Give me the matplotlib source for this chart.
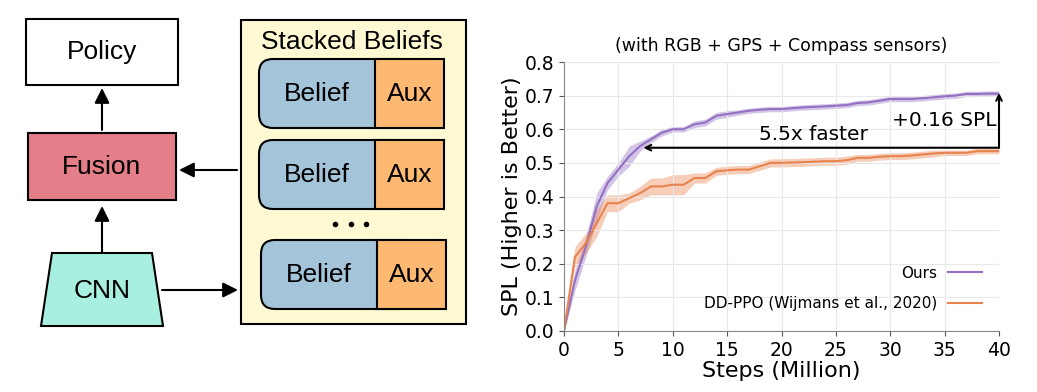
import numpy as np
import matplotlib
matplotlib.use("Agg")
import matplotlib.pyplot as plt
from matplotlib.patches import Rectangle, FancyBboxPatch, Polygon

# training curves (steps in million, SPL)
STEPS_OURS = [0, 1, 2, 3, 4, 5, 6, 7, 8, 9, 10, 11, 12, 13, 14, 15, 16, 17, 18, 19, 20,
              22, 24, 25, 26, 27, 28, 29, 30, 32, 34, 35, 36, 37, 38, 39, 40]
SPL_OURS = [0.0, 0.15, 0.25, 0.37, 0.44, 0.48, 0.52, 0.55, 0.57, 0.59, 0.60, 0.60, 0.615,
            0.62, 0.64, 0.645, 0.65, 0.655, 0.658, 0.66, 0.66, 0.665, 0.668, 0.67, 0.672,
            0.678, 0.68, 0.685, 0.69, 0.69, 0.695, 0.698, 0.70, 0.705, 0.705, 0.706, 0.706]
ERR_OURS = [0.0, 0.03, 0.03, 0.04, 0.02, 0.02, 0.03, 0.015, 0.01, 0.01, 0.008, 0.008, 0.01,
            0.01, 0.01, 0.01, 0.008, 0.008, 0.008, 0.008, 0.008, 0.008, 0.008, 0.008, 0.008,
            0.008, 0.008, 0.008, 0.008, 0.008, 0.008, 0.008, 0.008, 0.008, 0.008, 0.008, 0.008]

STEPS_DD = [0, 1, 2, 3, 4, 5, 6, 7, 8, 9, 10, 11, 12, 13, 14, 15, 16, 17, 18, 19, 20,
            22, 24, 25, 26, 27, 28, 29, 30, 31, 32, 33, 34, 35, 36, 37, 38, 39, 40]
SPL_DD = [0.0, 0.22, 0.26, 0.32, 0.38, 0.38, 0.395, 0.41, 0.43, 0.43, 0.435, 0.435, 0.455,
          0.455, 0.475, 0.478, 0.48, 0.48, 0.49, 0.50, 0.50, 0.502, 0.505, 0.505, 0.508,
          0.515, 0.515, 0.518, 0.52, 0.52, 0.522, 0.525, 0.528, 0.53, 0.53, 0.53, 0.535,
          0.535, 0.535]
ERR_DD = [0.0, 0.03, 0.03, 0.04, 0.025, 0.025, 0.015, 0.02, 0.025, 0.025, 0.03, 0.03, 0.015,
          0.015, 0.012, 0.012, 0.012, 0.012, 0.012, 0.012, 0.012, 0.012, 0.012, 0.012, 0.012,
          0.01, 0.01, 0.01, 0.01, 0.01, 0.01, 0.01, 0.01, 0.008, 0.008, 0.008, 0.008, 0.008, 0.008]

PURPLE = "#9370c2"
ORANGE = "#e8834e"
W, H = 1037, 392
DFONT = ["Liberation Sans", "DejaVu Sans"]

fig = plt.figure(figsize=(W / 100, H / 100), dpi=100)

# ---- left: architecture diagram, drawn in pixel coords ----
d = fig.add_axes([0, 0, 1, 1])
d.set_xlim(0, W); d.set_ylim(H, 0); d.axis("off")


def box(x0, y0, x1, y1, fc, label):
    d.add_patch(Rectangle((x0, y0), x1 - x0, y1 - y0, fc=fc, ec="black", lw=1.5))
    d.text((x0 + x1) / 2, (y0 + y1) / 2, label, ha="center", va="center", fontsize=19, family=DFONT)


def arrow(x0, y0, x1, y1):
    d.annotate("", xy=(x1, y1), xytext=(x0, y0),
               arrowprops=dict(arrowstyle="-|>,head_length=0.9,head_width=0.45", lw=1.5, color="black",
                               shrinkA=0, shrinkB=0))


box(26, 19, 178, 85, "white", "Policy")
box(28, 133, 176, 200, "#e47f8a", "Fusion")
d.add_patch(Polygon([(52, 253), (152, 253), (163, 326), (41, 326)], closed=True,
                    fc="#a8efe0", ec="black", lw=1.5))
d.text(102, 291, "CNN", ha="center", va="center", fontsize=19, family=DFONT)
arrow(102, 130, 102, 88)
arrow(102, 252, 102, 206)
arrow(162, 290, 238, 290)
arrow(237, 170, 179, 170)

d.add_patch(Rectangle((241, 20), 225, 304, fc="#fef9d3", ec="black", lw=1.5))
d.text(352, 42, "Stacked Beliefs", ha="center", va="center", fontsize=19, family=DFONT)
for (x0, y0, x1, xa) in [(259, 59, 375, 444), (259, 140, 375, 444), (261, 240, 377, 446)]:
    y1 = y0 + 69
    d.add_patch(FancyBboxPatch((x0 + 14, y0 + 14), (x1 - x0) + 10, 69 - 28,
                               boxstyle="round,pad=14", fc="#a4c4d9", ec="black", lw=1.5))
    d.add_patch(Rectangle((x1, y0), xa - x1, 69, fc="#fdb872", ec="black", lw=1.5))
    d.text((x0 + x1) / 2, (y0 + y1) / 2, "Belief", ha="center", va="center", fontsize=19, family=DFONT)
    d.text((x1 + xa) / 2, (y0 + y1) / 2, "Aux", ha="center", va="center", fontsize=19, family=DFONT)
for x in (335, 351, 366):
    d.plot(x, 224, "o", color="black", ms=3)

# ---- right: SPL curves ----
ax = fig.add_axes([564 / W, 1 - 331 / H, (999 - 564) / W, (331 - 62) / H])
for st, v, e, c, lab in [(STEPS_OURS, SPL_OURS, ERR_OURS, PURPLE, "Ours"),
                         (STEPS_DD, SPL_DD, ERR_DD, ORANGE, "DD-PPO (Wijmans et al., 2020)")]:
    st, v, e = np.array(st), np.array(v), np.array(e)
    ax.fill_between(st, v - e, v + e, color=c, alpha=0.4, lw=0)
    ax.plot(st, v, color=c, lw=1.5, label=lab)

ax.set_xlim(0, 40); ax.set_ylim(0, 0.8)
ax.set_xticks(range(0, 41, 5)); ax.set_yticks(np.arange(0, 0.81, 0.1))
ax.tick_params(labelsize=13.5, color="#555555")
ax.grid(color="#e8e8e8", lw=0.8)
for s in ("top", "right"):
    ax.spines[s].set_visible(False)
for s in ("left", "bottom"):
    ax.spines[s].set_color("#888888")
ax.set_xlabel("Steps (Million)", fontsize=16, labelpad=1)
ax.set_ylabel("SPL (Higher is Better)", fontsize=16, labelpad=2)
ax.set_title("(with RGB + GPS + Compass sensors)", fontsize=12.5, pad=8)

ax.annotate("", xy=(7.3, 0.545), xytext=(40, 0.545),
            arrowprops=dict(arrowstyle="->", lw=1.5, color="black", shrinkA=0, shrinkB=0))
ax.annotate("", xy=(40, 0.708), xytext=(40, 0.545),
            arrowprops=dict(arrowstyle="->", lw=1.5, color="black", shrinkA=0, shrinkB=0))
ax.text(22.9, 0.585, "5.5x faster", ha="center", va="center", fontsize=14.5)
ax.text(35.0, 0.625, "+0.16 SPL", ha="center", va="center", fontsize=14.5)

ax.legend(loc="lower right", frameon=False, markerfirst=False, fontsize=11,
          handlelength=2.2, handletextpad=0.7, borderaxespad=0.3, labelspacing=1.0,
          bbox_to_anchor=(0.985, 0.035))

fig.savefig("out.png", dpi=100)
